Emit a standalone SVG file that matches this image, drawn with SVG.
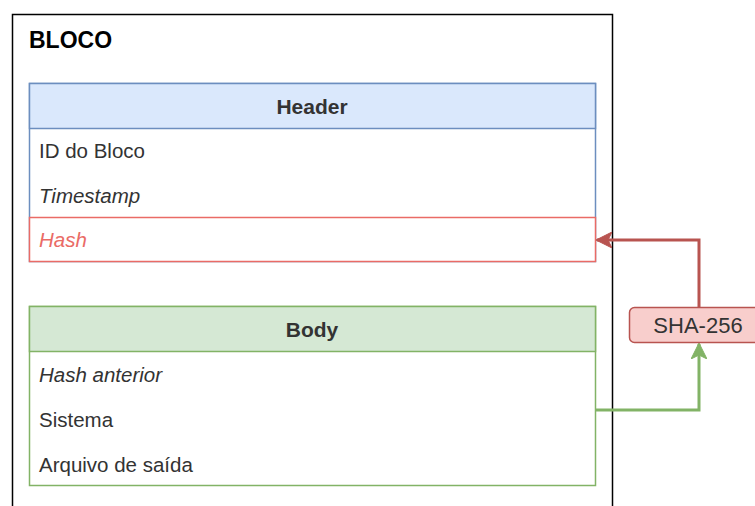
<svg xmlns="http://www.w3.org/2000/svg" width="755" height="506" viewBox="0 0 755 506">
<defs>
<style>
text{font-family:"Liberation Sans",Arial,sans-serif;font-size:20.5px;fill:#333}
.b{font-weight:bold;fill:#000}
.i{font-style:italic}
.c{text-anchor:middle}
</style>
<marker id="ar" viewBox="0 0 16 16" refX="15" refY="8" markerWidth="16" markerHeight="16" markerUnits="userSpaceOnUse" orient="auto">
<path d="M0,0 L16,8 L0,16 L4,8 Z" fill="#b85450" stroke="#b85450" stroke-width="1"/>
</marker>
<marker id="ag" viewBox="0 0 16 16" refX="15" refY="8" markerWidth="16" markerHeight="16" markerUnits="userSpaceOnUse" orient="auto">
<path d="M0,0 L16,8 L0,16 L4,8 Z" fill="#82b366" stroke="#82b366" stroke-width="1"/>
</marker>
</defs>
<rect width="755" height="506" fill="#fff"/>
<g id="bloco">
<rect x="12.5" y="14.5" width="600" height="510" fill="#fff" stroke="#000" stroke-width="1.5"/>
<text x="29" y="48" class="b" style="font-size:23px">BLOCO</text>
</g>
<g id="header">
<rect x="29.5" y="83.5" width="566" height="178" fill="#fff" stroke="#6c8ebf" stroke-width="1.5"/>
<rect x="29.5" y="83.5" width="566" height="45" fill="#dae8fc" stroke="#6c8ebf" stroke-width="1.5"/>
<text x="312" y="114" class="b c" style="fill:#333;font-size:21px">Header</text>
<text x="39" y="158">ID do Bloco</text>
<text x="39" y="203" class="i">Timestamp</text>
</g>
<g id="hash">
<rect x="29.5" y="217.5" width="566" height="44" fill="#fff" stroke="#ea6b66" stroke-width="1.5"/>
<text x="39" y="247" class="i" style="fill:#ea6b66">Hash</text>
</g>
<g id="body">
<rect x="29.5" y="306.5" width="566" height="179" fill="#fff" stroke="#82b366" stroke-width="1.5"/>
<rect x="29.5" y="306.5" width="566" height="45" fill="#d5e8d4" stroke="#82b366" stroke-width="1.5"/>
<text x="312" y="337" class="b c" style="fill:#333;font-size:21px">Body</text>
<text x="39" y="382" class="i">Hash anterior</text>
<text x="39" y="427">Sistema</text>
<text x="39" y="472">Arquivo de saída</text>
</g>
<g id="connectors" fill="none" stroke-width="3">
<path d="M596,410 H699 V344" stroke="#82b366" marker-end="url(#ag)"/>
<path d="M699,307 V240 H597" stroke="#b85450" marker-end="url(#ar)"/>
</g>
<g id="sha256">
<rect x="629.5" y="307.5" width="138" height="35" rx="5" fill="#f8cecc" stroke="#b85450" stroke-width="1.5"/>
<text x="698" y="333" class="c" style="font-size:22px">SHA-256</text>
</g>
</svg>
